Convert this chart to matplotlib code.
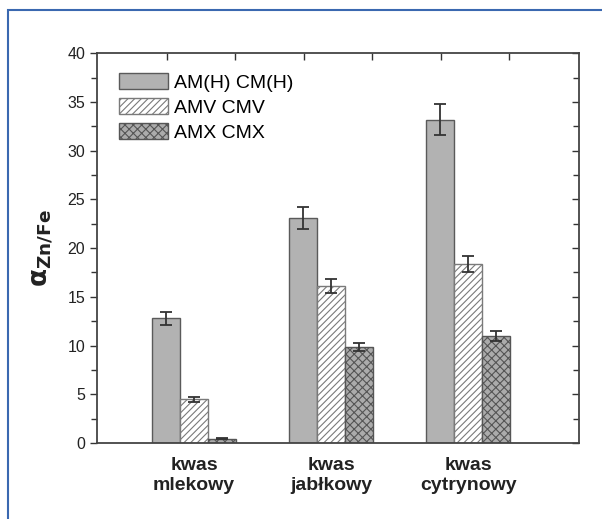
import numpy as np
import matplotlib.pyplot as plt
from matplotlib.patches import Rectangle

plt.rcParams['font.family'] = ['Liberation Sans', 'DejaVu Sans']
plt.rcParams['hatch.linewidth'] = 0.8

# data
categories = ['kwas\nmlekowy', 'kwas\njabłkowy', 'kwas\ncytrynowy']
series_names = ['AM(H) CM(H)', 'AMV CMV', 'AMX CMX']
amh_vals = [12.8, 23.1, 33.2]
amh_err = [0.65, 1.15, 1.6]
amv_vals = [4.5, 16.1, 18.35]
amv_err = [0.25, 0.75, 0.8]
amx_vals = [0.45, 9.85, 10.95]
amx_err = [0.05, 0.45, 0.5]

fig = plt.figure(figsize=(6.02, 5.19), dpi=100)
ax = fig.add_axes([0.161, 0.1464, 0.801, 0.751])

x = np.arange(1, len(categories) + 1)
w = 0.204
ekw = dict(ecolor='#333333', capsize=4.3, elinewidth=1.3, capthick=1.3)

ax.bar(x - w, amh_vals, w, yerr=amh_err, color='#b2b2b2', edgecolor='#5a5a5a',
       linewidth=1.0, label=series_names[0], error_kw=ekw)
ax.bar(x, amv_vals, w, yerr=amv_err, color='white', edgecolor='#7a7a7a',
       hatch='/////', linewidth=1.0, label=series_names[1], error_kw=ekw)
ax.bar(x + w, amx_vals, w, yerr=amx_err, color='#ababab', edgecolor='#555555',
       hatch='xxxx', linewidth=1.0, label=series_names[2], error_kw=ekw)

ax.set_xlim(0.292, 3.81)
ax.set_ylim(0, 40)
ax.set_yticks(np.arange(0, 41, 5))
ax.set_yticks(np.arange(2.5, 40, 5), minor=True)
ax.set_xticks(x)
ax.set_xticklabels(categories, fontsize=14, fontweight='bold', linespacing=1.25,
                   color='#222222')
ax.tick_params(axis='x', which='major', length=0, pad=10, top=False)
ax.set_xticks([0.8, 1.3, 1.8, 2.3, 2.8, 3.3], minor=True)
ax.tick_params(axis='x', which='minor', bottom=False, top=True, direction='in',
               length=5, width=1.0, color='#333333')
ax.tick_params(axis='y', which='major', labelsize=11.5, length=5, width=1.0,
               color='#333333', labelcolor='#222222')
ax.tick_params(axis='y', which='minor', length=4, width=1.0, color='#333333')
ax.tick_params(axis='y', which='both', right=True)

# right-side ticks point inward, left ones outward
for t in ax.yaxis.get_major_ticks() + ax.yaxis.get_minor_ticks():
    t.tick2line.set_marker(0)

for sp in ax.spines.values():
    sp.set_color('#444444')
    sp.set_linewidth(1.3)

ax.set_ylabel(r'$\mathbf{\alpha}_{\mathbf{Zn/Fe}}$', fontsize=19, fontweight='bold',
              labelpad=8, color='#222222')

ax.legend(loc='upper left', bbox_to_anchor=(0.03, 0.97), frameon=False,
          fontsize=14, handlelength=2.5, handleheight=0.95, handletextpad=0.3,
          labelspacing=0.3, borderaxespad=0.0)

# blue frame around the figure (cut off at right and bottom)
fig.add_artist(Rectangle((8 / 602, -0.2), 1.2, 1.2 - 10 / 519,
                         transform=fig.transFigure, fill=False,
                         edgecolor='#3a68b0', linewidth=1.5))

fig.savefig('out.png', dpi=100)
